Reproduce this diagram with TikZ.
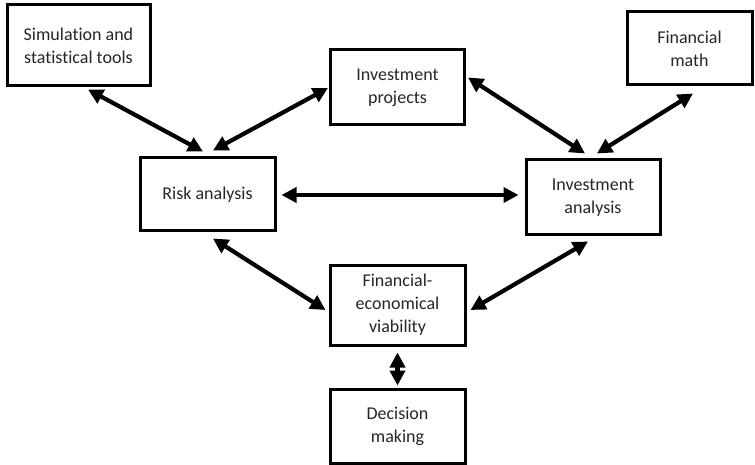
\documentclass[tikz,border=0pt]{standalone}
\usepackage{fontspec}
\setmainfont{Carlito}[Ligatures=NoCommon]
\usetikzlibrary{arrows.meta,calc}
\begin{document}
\begin{tikzpicture}[x=1pt,y=-1pt,
  box/.style={draw=black,line width=3pt,fill=white,align=center,inner sep=0pt,
    text=black!85,font=\fontsize{18}{23}\selectfont},
  link/.style={line width=4.2pt,{Triangle[length=15pt,width=15pt]}-{Triangle[length=15pt,width=15pt]}}]
\useasboundingbox (0,0) rectangle (755,465);
\node[box,minimum width=143pt,minimum height=81pt] (sim) at (78.5,45.5) {Simulation and\\statistical tools};
\node[box,minimum width=134pt,minimum height=75pt] (proj) at (397.5,87.5) {Investment\\projects};
\node[box,minimum width=125pt,minimum height=73pt] (math) at (689.5,48.5) {Financial\\math};
\node[box,minimum width=135pt,minimum height=73pt] (risk) at (207.5,194.5) {Risk analysis};
\node[box,minimum width=134pt,minimum height=75pt] (anal) at (593,197.5) {Investment\\analysis};
\node[box,minimum width=135pt,minimum height=80pt] (viab) at (397.5,305) {Financial-\\economical\\viability};
\node[box,minimum width=135pt,minimum height=74pt] (dec) at (397.5,426) {Decision\\making};
\draw[link] ($(sim.south)+(9.5,2)$) -- ($(risk.north)+(-4.5,-5)$);
\draw[link] ($(risk.north)+(5.5,-6)$) -- ($(proj.west)+(-1,0.5)$);
\draw[link] ($(proj.east)+(2,-10)$) -- ($(anal.north)+(-8,-5)$);
\draw[link] ($(math.south)+(3.5,7)$) -- ($(anal.north)+(4,-5)$);
\draw[link] ($(risk.east)+(5,0.5)$) -- ($(anal.west)+(-6,-2.5)$);
\draw[link] ($(risk.south)+(5.5,6)$) -- ($(viab.west)+(-3,5)$);
\draw[link] ($(anal.south)+(-5,5)$) -- ($(viab.east)+(4,5)$);
\draw[link] ($(viab.south)+(0,6)$) -- ($(dec.north)+(0,-2)$);
\end{tikzpicture}
\end{document}
